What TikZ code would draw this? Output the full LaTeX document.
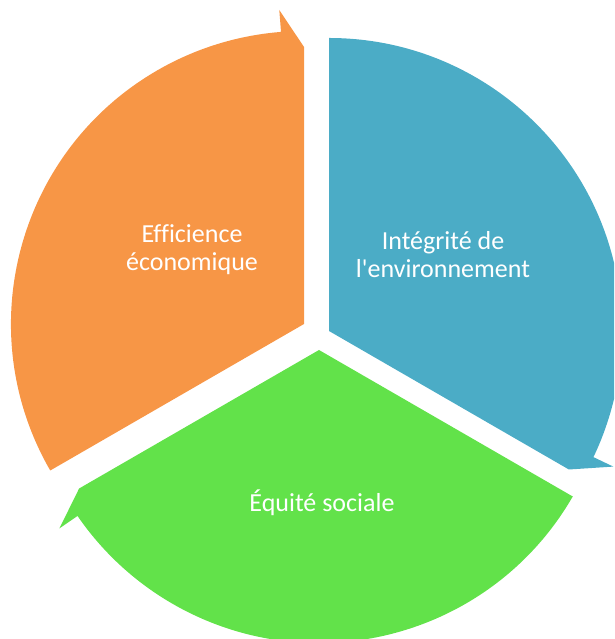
\documentclass[tikz,border=0pt]{standalone}
\usepackage{fontspec}
\setmainfont[Ligatures={NoCommon}]{Carlito}
\usetikzlibrary{calc}
\definecolor{ecoorange}{RGB}{247,150,70}
\definecolor{envblue}{RGB}{75,172,198}
\definecolor{socgreen}{RGB}{98,226,74}
\tikzset{
   cycletext/.style = {text = white, align = center, inner sep = 0pt,
                       font = \fontsize{26}{28}\selectfont}
}
\newcommand{\cyclearrow}[4]{
   \fill[#4] (#1) -- ++(#2:293)
      arc[start angle = #2, end angle = #3+4.5, radius = 293]
      -- ($ (#1)+(#3+4.5:315) $) -- ($ (#1)+(#3:277) $) -- cycle;
}

\begin{document}
\begin{tikzpicture}[x=1pt, y=1pt]

		\useasboundingbox (0,0) rectangle (614,639);
		\clip (0,0) rectangle (614,639);

		% Centres of the three slices
		\coordinate (ecoapex) at (304,315);
		\coordinate (envapex) at (329,308);
		\coordinate (socapex) at (319,289);

		% Arrows
		\cyclearrow{ecoapex}{210}{90}{ecoorange}
		\cyclearrow{envapex}{90}{-30}{envblue}
		\cyclearrow{socapex}{330}{210}{socgreen}

		% Labels
		\node[cycletext] (eco) at (192,389) {Efficience\\économique};
		\node[cycletext] (env) at (443,384) {Intégrité de\\l\textquotesingle environnement};
		\node[cycletext, anchor = base] (soc) at (322,127) {Équité sociale};
	\end{tikzpicture}
\end{document}
